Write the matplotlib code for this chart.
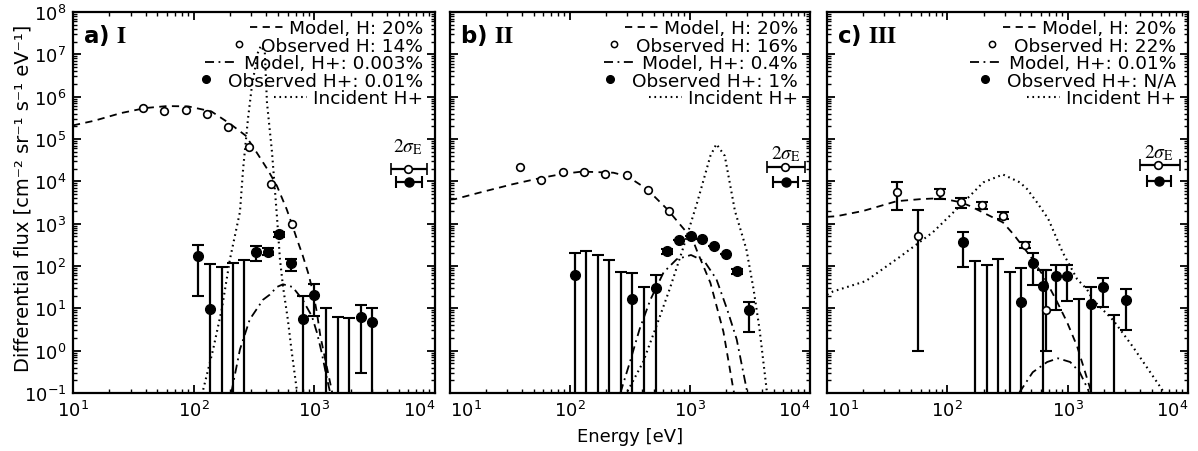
import matplotlib
matplotlib.use("Agg")
import matplotlib.pyplot as plt
import numpy as np
from matplotlib.lines import Line2D
from matplotlib.legend_handler import HandlerLine2D
from matplotlib.ticker import LogLocator, NullFormatter

plt.rcParams['font.family'] = 'DejaVu Sans'
plt.rcParams['mathtext.fontset'] = 'stix'

# ---- panel a) I ----
a_modelH_E = [10, 15, 25, 40, 60, 90, 140, 200, 270, 330, 410, 490, 590, 650, 720, 800, 890, 980, 1050, 1120, 1230, 1350, 1420]
a_modelH_F = [2.1e5, 2.7e5, 4.1e5, 5.4e5, 6.0e5, 5.9e5, 4.5e5, 2.3e5, 1.2e5, 5.0e4, 1.9e4, 7.8e3, 2.2e3, 1.0e3,
              420, 180, 68, 23, 8, 2.3, 0.63, 0.18, 0.09]
a_modelHp_E = [205, 242, 292, 376, 427, 490, 550, 660, 800, 955, 1050, 1150, 1260, 1350]
a_modelHp_F = [0.1, 1.07, 5.5, 16, 21, 32, 37, 32, 16, 6.5, 2.7, 0.91, 0.25, 0.105]
a_inc_E = [120, 145, 171, 200, 242, 257, 282, 304, 341, 361, 389, 405, 446, 490, 519, 550, 603, 646, 718]
a_inc_F = [0.12, 1.07, 9.5, 145, 1.9e3, 1.95e4, 3.0e5, 1.8e6, 1.1e7, 1.6e7, 1.1e7, 7.4e5, 4.9e4, 1.5e3,
           145, 33, 5.5, 1.07, 0.11]
a_obsH_E = [38, 57, 86, 129, 192, 287, 436, 651]
a_obsH_F = [5.4e5, 4.6e5, 4.8e5, 3.9e5, 1.9e5, 6.5e4, 8.5e3, 9.8e2]
a_obsHp_E = [109, 136, 328, 412, 509, 640, 803, 990, 2430, 3000]
a_obsHp_F = [170, 9.5, 215, 215, 560, 117, 5.5, 21, 6.2, 4.7]
a_obsHp_lo = [19.5, 1e-3, 130, 180, 480, 76, 1e-3, 6.5, 0.3, 1e-3]
a_obsHp_hi = [310, 110, 295, 260, 650, 150, 20, 37, 12, 10]
a_lim_E = [171, 212, 261, 1250, 1570, 1940]
a_lim_hi = [93, 117, 138, 10, 6.2, 5.9]
a_sig_E = [5960, 6080]
a_sig_F = [2.0e4, 9.5e3]
a_sig_lo = [4320, 4740]
a_sig_hi = [8570, 7780]
a_sig_text = [5960, 6.8e4]

# ---- panel b) II ----
b_modelH_E = [10, 11, 18, 33, 57, 87, 126, 230, 300, 437, 646, 850, 1050, 1150, 1480, 1900, 2290, 2350]
b_modelH_F = [3.7e3, 3.8e3, 5.5e3, 8.5e3, 1.2e4, 1.5e4, 1.7e4, 1.6e4, 1.32e4, 6.6e3, 2.2e3, 870, 430, 220,
              40, 2.8, 0.13, 0.09]
b_modelHp_E = [263, 316, 380, 468, 603, 776, 1020, 1320, 1660, 2040, 2450, 2750, 2990]
b_modelHp_F = [0.1, 0.54, 3.2, 16, 71, 145, 182, 129, 49, 9.5, 1.86, 0.36, 0.11]
b_inc_E = [302, 407, 525, 676, 871, 1150, 1480, 1660, 1950, 2370, 2950, 3390, 3800, 4370]
b_inc_F = [0.11, 0.54, 3.8, 28, 250, 3.2e3, 4.0e4, 7.6e4, 4.0e4, 2.0e3, 250, 28, 3.2, 0.11]
b_obsH_E = [38, 57, 87, 131, 196, 298, 447, 668]
b_obsH_F = [2.2e4, 1.1e4, 1.66e4, 1.66e4, 1.5e4, 1.4e4, 6.3e3, 2.0e3]
b_obsHp_E = [110, 330, 518, 643, 810, 1020, 1260, 1580, 1990, 2460, 3100]
b_obsHp_F = [60, 17, 30, 224, 410, 500, 425, 295, 190, 76, 9.1]
b_obsHp_lo = [1e-3, 1e-3, 1e-3, 195, 410, 500, 425, 295, 190, 66, 2.8]
b_obsHp_hi = [200, 68, 60, 258, 410, 500, 425, 295, 190, 87, 14]
b_lim_E = [137, 172, 213, 265, 413]
b_lim_hi = [225, 180, 137, 71, 32]
b_sig_E = [6170, 6310]
b_sig_F = [2.2e4, 9.5e3]
b_sig_lo = [4370, 4900]
b_sig_hi = [9120, 7940]
b_sig_text = [6300, 4.7e4]

# ---- panel c) III ----
c_modelH_E = [10, 12, 20, 38, 60, 87, 130, 155, 240, 290, 355, 490, 630, 810, 990, 1200, 1350, 1550, 1580]
c_modelH_F = [1.45e3, 1.5e3, 2.0e3, 3.4e3, 3.8e3, 4.0e3, 3.2e3, 2.6e3, 1.4e3, 1.07e3, 560, 170, 58, 15, 4.7,
              1.26, 0.43, 0.12, 0.1]
c_modelHp_E = [395, 513, 676, 832, 1050, 1260, 1480, 1510]
c_modelHp_F = [0.1, 0.31, 0.54, 0.66, 0.54, 0.31, 0.12, 0.1]
c_inc_E = [10, 11.2, 21, 41, 76, 127, 186, 200, 290, 400, 460, 556, 690, 910, 1200, 1450, 1620, 2400, 3470, 6100, 6300]
c_inc_F = [21, 25, 44, 170, 630, 2.6e3, 7.8e3, 9.5e3, 1.45e4, 9.5e3, 6.6e3, 3.2e3, 1.3e3, 210, 49, 28, 16,
           5.2, 1.26, 0.12, 0.1]
c_obsH_E = [38, 57, 87, 130, 195, 292, 442, 660]
c_obsH_F = [5.5e3, 500, 5.5e3, 3.2e3, 2.75e3, 1.5e3, 310, 9.1]
c_obsH_lo = [2.1e3, 1.0, 3.8e3, 2.3e3, 2.2e3, 1.26e3, 260, 1.0]
c_obsH_hi = [9.5e3, 2.1e3, 6.6e3, 4.0e3, 3.2e3, 1.9e3, 370, 80]
c_obsHp_E = [135, 410, 515, 630, 800, 990, 1560, 1970, 3050]
c_obsHp_F = [360, 14, 118, 33, 58, 58, 13, 32, 15.5]
c_obsHp_lo = [93, 1e-3, 35, 1e-3, 9.1, 15, 1e-3, 10.6, 3.0]
c_obsHp_hi = [630, 90, 200, 80, 105, 105, 32, 51, 28]
c_lim_E = [170, 213, 265, 330, 1240, 2430]
c_lim_hi = [129, 105, 145, 71, 17, 7]
c_sig_E = [5620, 5750]
c_sig_F = [2.4e4, 1.0e4]
c_sig_lo = [3980, 4570]
c_sig_hi = [8510, 7240]
c_sig_text = [5700, 5.0e4]

x_ticks = [1e1, 1e2, 1e3, 1e4]
panel_letters = ['a)', 'b)', 'c)']
panel_numerals = ['I', 'II', 'III']
legend_labels = [
    ['Model, H: 20%', 'Observed H: 14%', 'Model, H+: 0.003%', 'Observed H+: 0.01%', 'Incident H+'],
    ['Model, H: 20%', 'Observed H: 16%', 'Model, H+: 0.4%', 'Observed H+: 1%', 'Incident H+'],
    ['Model, H: 20%', 'Observed H: 22%', 'Model, H+: 0.01%', 'Observed H+: N/A', 'Incident H+'],
]

panels = [
    dict(mH=(a_modelH_E, a_modelH_F), mHp=(a_modelHp_E, a_modelHp_F), inc=(a_inc_E, a_inc_F),
         oH=(a_obsH_E, a_obsH_F, None, None), oHp=(a_obsHp_E, a_obsHp_F, a_obsHp_lo, a_obsHp_hi),
         lim=(a_lim_E, a_lim_hi), sig=(a_sig_E, a_sig_F, a_sig_lo, a_sig_hi), sigt=a_sig_text),
    dict(mH=(b_modelH_E, b_modelH_F), mHp=(b_modelHp_E, b_modelHp_F), inc=(b_inc_E, b_inc_F),
         oH=(b_obsH_E, b_obsH_F, None, None), oHp=(b_obsHp_E, b_obsHp_F, b_obsHp_lo, b_obsHp_hi),
         lim=(b_lim_E, b_lim_hi), sig=(b_sig_E, b_sig_F, b_sig_lo, b_sig_hi), sigt=b_sig_text),
    dict(mH=(c_modelH_E, c_modelH_F), mHp=(c_modelHp_E, c_modelHp_F), inc=(c_inc_E, c_inc_F),
         oH=(c_obsH_E, c_obsH_F, c_obsH_lo, c_obsH_hi), oHp=(c_obsHp_E, c_obsHp_F, c_obsHp_lo, c_obsHp_hi),
         lim=(c_lim_E, c_lim_hi), sig=(c_sig_E, c_sig_F, c_sig_lo, c_sig_hi), sigt=c_sig_text),
]

DASH = (4, 3)
DASHDOT = (5, 2.5, 1, 2.5)
DOT = (0.8, 1.8)
LW = 1.3
ERR = dict(fmt='none', ecolor='k', elinewidth=1.6, capsize=4, capthick=1.5, zorder=4)


class MarkerAtRight(HandlerLine2D):
    # legend marker sits next to the label instead of centred in the handle
    def get_xdata(self, legend, xdescent, ydescent, width, height, fontsize):
        xm = -xdescent + width - 0.2 * fontsize
        return np.array([-xdescent, -xdescent + width]), np.array([xm])


def yerr_of(vals, lo, hi):
    v = np.asarray(vals, float)
    return [v - np.asarray(lo, float), np.asarray(hi, float) - v]


fig = plt.figure(figsize=(11.98, 4.52), dpi=100)
lefts = [0.0609, 0.3756, 0.6903]
widths = [0.3022, 0.3005, 0.3013]

for i, p in enumerate(panels):
    ax = fig.add_axes([lefts[i], 0.1283, widths[i], 0.8429])
    ax.set_xscale('log')
    ax.set_yscale('log')

    ax.plot(*p['mH'], color='k', lw=LW, dashes=DASH, zorder=2)
    ax.plot(*p['mHp'], color='k', lw=LW, dashes=DASHDOT, zorder=2)
    ax.plot(*p['inc'], color='k', lw=1.5, dashes=DOT, zorder=2)

    # upper limits (bars down to the axis)
    lE, lhi = p['lim']
    ax.errorbar(lE, lhi, yerr=yerr_of(lhi, [1e-3] * len(lhi), lhi), **ERR)

    # observed H+
    E, F, lo, hi = p['oHp']
    ax.errorbar(E, F, yerr=yerr_of(F, lo, hi), **ERR)
    ax.plot(E, F, 'o', color='k', ms=7, zorder=5)

    # observed H
    E, F, lo, hi = p['oH']
    if lo is not None:
        ax.errorbar(E, F, yerr=yerr_of(F, lo, hi), **ERR)
    ax.plot(E, F, 'o', ms=5.5, mfc='white', mec='k', mew=1.2, zorder=6)

    # energy resolution marker
    sE, sF, slo, shi = p['sig']
    xerr = yerr_of(sE, slo, shi)
    ax.errorbar(sE[0], sF[0], xerr=[[xerr[0][0]], [xerr[1][0]]], fmt='o', color='k', ms=5.5,
                mfc='white', mec='k', mew=1.2, elinewidth=1.6, capsize=4, capthick=1.5)
    ax.errorbar(sE[1], sF[1], xerr=[[xerr[0][1]], [xerr[1][1]]], fmt='o', color='k', ms=6.5,
                elinewidth=1.6, capsize=4, capthick=1.5)
    ax.text(p['sigt'][0], p['sigt'][1], r'$2\sigma_{\mathrm{E}}$', ha='center', va='center', fontsize=14)

    ax.set_xlim(10, 1e4)
    ax.set_ylim(0.1, 1e8)
    ax.set_xticks(x_ticks)
    ax.yaxis.set_major_locator(LogLocator(base=10, numticks=15))
    ax.xaxis.set_minor_locator(LogLocator(base=10, subs=np.arange(2, 10), numticks=10))
    ax.yaxis.set_minor_locator(LogLocator(base=10, subs=np.arange(2, 10), numticks=15))
    ax.xaxis.set_minor_formatter(NullFormatter())
    ax.yaxis.set_minor_formatter(NullFormatter())
    ax.tick_params(which='both', direction='in', top=True, right=True, labelsize=13)
    ax.tick_params(which='major', length=6, width=1.3, pad=5)
    ax.tick_params(which='minor', length=3, width=1.0)
    if i > 0:
        ax.tick_params(labelleft=False)
    xl = ax.get_xticklabels()
    xl[-1].set_horizontalalignment('right')
    if i > 0:
        xl[0].set_horizontalalignment('left')
    for s in ax.spines.values():
        s.set_linewidth(1.6)

    ax.text(0.028, 0.975, panel_letters[i] + r' $\mathbf{' + panel_numerals[i] + '}$', transform=ax.transAxes,
            fontsize=16.5, fontweight='bold', va='top', ha='left')

    handles = [
        Line2D([], [], color='k', lw=LW, dashes=DASH),
        Line2D([], [], ls='none', marker='o', ms=4.5, mfc='white', mec='k', mew=1.1),
        Line2D([], [], color='k', lw=LW, dashes=DASHDOT),
        Line2D([], [], ls='none', marker='o', ms=5.5, color='k'),
        Line2D([], [], color='k', lw=1.5, dashes=DOT),
    ]
    hmap = {handles[1]: MarkerAtRight(), handles[3]: MarkerAtRight()}
    leg = ax.legend(handles, legend_labels[i], handler_map=hmap, loc='upper right',
                    bbox_to_anchor=(1.0, 1.012), frameon=False,
                    fontsize=13.3, handlelength=1.8, handletextpad=0.3, labelspacing=-0.03,
                    borderaxespad=0.45, borderpad=0.2)
    for col in leg._legend_handle_box.get_children():
        col.align = 'right'

fig.text(0.019, 0.562, 'Differential flux [cm\u207b\u00b2 sr\u207b\u00b9 s\u207b\u00b9 eV\u207b\u00b9]',
         rotation=90, ha='center', va='center', fontsize=14)
fig.text(0.526, 0.033, 'Energy [eV]', ha='center', va='center', fontsize=13)

fig.savefig('out.png', dpi=100)
